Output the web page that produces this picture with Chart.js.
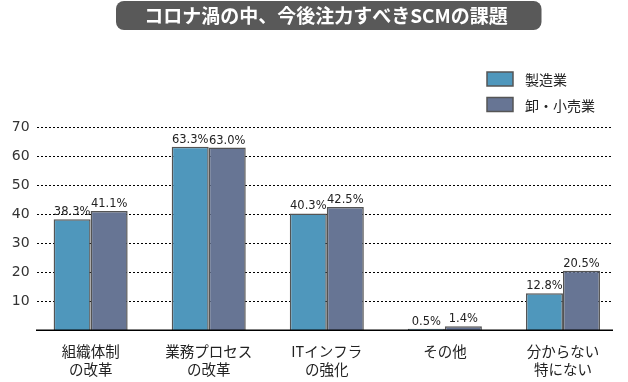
<!DOCTYPE html>
<html><head><meta charset="utf-8">
<script src="https://cdn.jsdelivr.net/npm/chart.js@4"></script>
<style>html,body{margin:0;padding:0;background:#fff}#wrap{width:628px;height:382px;position:relative}</style>
</head><body><div id="wrap"><canvas id="c" width="628" height="382"></canvas></div>
<script>
const titleText = 'コロナ渦の中、今後注力すべきSCMの課題';
const categories = [['組織体制','の改革'],['業務プロセス','の改革'],['ITインフラ','の強化'],['その他'],['分からない','特にない']];
const seriesNames = ['製造業','卸・小売業'];
const manufacturing = [38.3, 63.3, 40.3, 0.5, 12.8];
const wholesaleRetail = [41.1, 63.0, 42.5, 1.4, 20.5];
const yTicks = [10, 20, 30, 40, 50, 60, 70];

const JP = '"Noto Sans CJK JP", "Noto Sans", sans-serif';
const NUM = '"DejaVu Sans", Verdana, sans-serif';

const titlePlugin = {
  id: 'titleBox',
  afterDraw(chart) {
    const ctx = chart.ctx;
    ctx.save();
    ctx.fillStyle = '#595959';
    ctx.beginPath();
    ctx.roundRect(116, 1, 425.5, 29, 8);
    ctx.fill();
    ctx.fillStyle = '#ffffff';
    ctx.font = 'bold 19px ' + JP;
    ctx.textAlign = 'center';
    ctx.textBaseline = 'middle';
    ctx.fillText(titleText, 326, 16);
    ctx.restore();
  }
};

const legendPlugin = {
  id: 'legendBox',
  afterDraw(chart) {
    const ctx = chart.ctx;
    ctx.save();
    chart.data.datasets.forEach((ds, i) => {
      const y = 72 + i * 25.5;
      ctx.fillStyle = ds.backgroundColor;
      ctx.fillRect(487, y, 26, 14);
      ctx.strokeStyle = '#555';
      ctx.lineWidth = 1.5;
      ctx.strokeRect(487, y, 26, 14);
      ctx.fillStyle = '#222';
      ctx.font = '14px ' + JP;
      ctx.textAlign = 'left';
      ctx.textBaseline = 'middle';
      ctx.fillText(ds.label, 525, y + 8);
    });
    ctx.restore();
  }
};

const gridPlugin = {
  id: 'customGrid',
  beforeDatasetsDraw(chart) {
    const ctx = chart.ctx, ys = chart.scales.y;
    ctx.save();
    ctx.strokeStyle = '#000';
    ctx.lineWidth = 1;
    ctx.setLineDash([2, 2]);
    yTicks.forEach(v => {
      const y = Math.round(ys.getPixelForValue(v)) + 0.5;
      ctx.beginPath();
      ctx.moveTo(37, y);
      ctx.lineTo(612, y);
      ctx.stroke();
    });
    ctx.restore();
  },
  afterDatasetsDraw(chart) {
    const ctx = chart.ctx, ys = chart.scales.y;
    ctx.save();
    ctx.strokeStyle = '#000';
    ctx.lineWidth = 1.5;
    const y = ys.getPixelForValue(0);
    ctx.beginPath();
    ctx.moveTo(36, y);
    ctx.lineTo(613, y);
    ctx.stroke();
    // data labels
    ctx.fillStyle = '#222';
    ctx.font = '11.5px ' + NUM;
    ctx.textAlign = 'center';
    ctx.textBaseline = 'alphabetic';
    chart.data.datasets.forEach((ds, di) => {
      const meta = chart.getDatasetMeta(di);
      meta.data.forEach((el, i) => {
        ctx.fillText(ds.data[i].toFixed(1) + '%', el.x, el.y - 4);
      });
    });
    ctx.restore();
  }
};

new Chart(document.getElementById('c'), {
  type: 'bar',
  data: {
    labels: categories,
    datasets: [
      { label: seriesNames[0], data: manufacturing, backgroundColor: '#4f97bc', borderColor: '#545454', borderWidth: 1.5 },
      { label: seriesNames[1], data: wholesaleRetail, backgroundColor: '#677594', borderColor: '#545454', borderWidth: 1.5 }
    ]
  },
  options: {
    responsive: false,
    devicePixelRatio: 1,
    animation: false,
    layout: { padding: { top: 127.3, right: 6, bottom: 0, left: 0 } },
    plugins: { legend: { display: false }, title: { display: false }, tooltip: { enabled: false } },
    datasets: { bar: { categoryPercentage: 0.627, barPercentage: 1.0 } },
    scales: {
      x: {
        grid: { display: false, drawTicks: false },
        border: { display: false },
        ticks: { color: '#222', font: { family: JP, size: 14.5, lineHeight: 1.25 }, padding: 12, maxRotation: 0, autoSkip: false },
        afterFit(s) { s.height = 51.7; }
      },
      y: {
        min: 0, max: 70,
        grid: { display: false, drawTicks: false },
        border: { display: false },
        afterBuildTicks(s) { s.ticks = yTicks.map(v => ({ value: v })); },
        ticks: { color: '#333', font: { family: NUM, size: 14 }, padding: 2 },
        afterFit(s) { s.width = 31.6; }
      }
    }
  },
  plugins: [gridPlugin, titlePlugin, legendPlugin]
});
</script></body></html>
